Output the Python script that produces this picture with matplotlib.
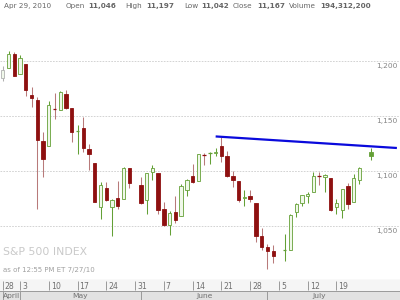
import numpy as np
import matplotlib
matplotlib.use("Agg")
import matplotlib.pyplot as plt

# daily S&P 500 candles (Jul 26 is missing on the chart)
dates = ["2010-04-28", "2010-04-29", "2010-04-30",
         "2010-05-03", "2010-05-04", "2010-05-05", "2010-05-06", "2010-05-07",
         "2010-05-10", "2010-05-11", "2010-05-12", "2010-05-13", "2010-05-14",
         "2010-05-17", "2010-05-18", "2010-05-19", "2010-05-20", "2010-05-21",
         "2010-05-24", "2010-05-25", "2010-05-26", "2010-05-27", "2010-05-28",
         "2010-06-01", "2010-06-02", "2010-06-03", "2010-06-04",
         "2010-06-07", "2010-06-08", "2010-06-09", "2010-06-10", "2010-06-11",
         "2010-06-14", "2010-06-15", "2010-06-16", "2010-06-17", "2010-06-18",
         "2010-06-21", "2010-06-22", "2010-06-23", "2010-06-24", "2010-06-25",
         "2010-06-28", "2010-06-29", "2010-06-30", "2010-07-01", "2010-07-02",
         "2010-07-06", "2010-07-07", "2010-07-08", "2010-07-09",
         "2010-07-12", "2010-07-13", "2010-07-14", "2010-07-15", "2010-07-16",
         "2010-07-19", "2010-07-20", "2010-07-21", "2010-07-22", "2010-07-23",
         "2010-07-27"]
opens = [1184.6, 1193.3, 1206.8,
         1188.6, 1197.5, 1169.2, 1164.4, 1127.0,
         1122.3, 1156.4, 1155.4, 1170.0, 1157.2,
         1136.5, 1138.8, 1119.6, 1107.3, 1067.3,
         1084.8, 1067.4, 1075.5, 1074.3, 1102.6,
         1087.3, 1073.9, 1098.8, 1098.4,
         1065.8, 1050.8, 1062.8, 1058.8, 1082.7,
         1095.0, 1091.2, 1114.0, 1116.0, 1116.2,
         1122.8, 1113.9, 1095.6, 1090.9, 1075.1,
         1077.5, 1071.1, 1040.6, 1031.1, 1027.7,
         1028.1, 1028.5, 1062.9, 1070.5,
         1077.2, 1080.7, 1095.6, 1094.5, 1093.9,
         1066.9, 1064.5, 1086.7, 1072.1, 1092.2,
         1117.4]
highs = [1195.1, 1209.4, 1208.0,
         1205.1, 1197.5, 1176.0, 1167.6, 1135.1,
         1163.9, 1170.5, 1172.6, 1173.6, 1157.2,
         1141.9, 1148.7, 1124.3, 1107.3, 1090.2,
         1090.0, 1074.8, 1090.8, 1103.5, 1102.6,
         1094.8, 1098.6, 1105.7, 1098.4,
         1071.4, 1063.2, 1077.7, 1087.9, 1092.3,
         1105.9, 1115.6, 1116.6, 1117.7, 1121.0,
         1131.2, 1118.5, 1099.6, 1090.9, 1083.1,
         1082.6, 1071.1, 1048.1, 1033.6, 1033.0,
         1042.5, 1060.9, 1071.3, 1078.2,
         1080.8, 1099.5, 1099.1, 1096.9, 1093.9,
         1074.7, 1083.9, 1089.0, 1097.5, 1103.7,
         1121.0]
lows = [1181.8, 1193.3, 1186.3,
        1188.6, 1168.1, 1158.2, 1065.8, 1094.2,
        1122.3, 1147.7, 1155.4, 1156.1, 1126.1,
        1115.0, 1117.2, 1100.7, 1071.6, 1055.9,
        1072.7, 1040.8, 1065.6, 1074.3, 1084.8,
        1069.9, 1060.5, 1091.8, 1060.5,
        1049.9, 1042.2, 1052.3, 1058.8, 1077.1,
        1089.0, 1091.2, 1105.0, 1105.9, 1113.9,
        1108.2, 1094.2, 1085.3, 1071.6, 1067.9,
        1071.5, 1035.2, 1028.3, 1010.9, 1015.9,
        1018.4, 1028.5, 1058.2, 1068.1,
        1070.5, 1080.7, 1087.7, 1080.5, 1063.3,
        1061.1, 1056.9, 1065.3, 1072.1, 1087.9,
        1109.8]
closes = [1191.4, 1206.8, 1186.7,
          1202.3, 1173.6, 1165.9, 1128.2, 1110.9,
          1159.7, 1155.8, 1171.7, 1157.4, 1135.7,
          1136.9, 1120.8, 1115.1, 1071.6, 1087.7,
          1073.7, 1074.0, 1068.0, 1103.1, 1089.4,
          1070.7, 1098.4, 1102.8, 1064.9,
          1050.5, 1062.0, 1055.7, 1086.8, 1091.6,
          1089.6, 1115.2, 1114.6, 1116.0, 1117.5,
          1113.2, 1095.3, 1092.0, 1073.7, 1076.8,
          1074.6, 1041.2, 1030.7, 1027.4, 1022.6,
          1028.1, 1060.3, 1070.3, 1078.0,
          1078.8, 1095.3, 1095.2, 1096.5, 1064.9,
          1071.3, 1083.5, 1069.6, 1093.7, 1102.7,
          1113.8]

# trend line drawn on the chart
trend_x = [37.0, 68.5]
trend_y = [1131.4, 1120.9]

yticks = [1050, 1100, 1150, 1200]
week_ticks = ["2010-04-28", "2010-05-03", "2010-05-10", "2010-05-17", "2010-05-24",
              "2010-05-31", "2010-06-07", "2010-06-14", "2010-06-21", "2010-06-28",
              "2010-07-05", "2010-07-12", "2010-07-19"]
week_labels = ["28", "3", "10", "17", "24", "31", "7", "14", "21", "28", "5", "12", "19"]
month_starts = ["2010-04-28", "2010-05-03", "2010-06-01", "2010-07-01"]
month_names = ["April", "May", "June", "July"]
month_label_x = [1.45, 13.5, 35.0, 55.0]

# weekday positions, holidays leave a gap
x = np.busday_count(dates[0], dates).astype(float)
o = np.array(opens); h = np.array(highs); l = np.array(lows); c = np.array(closes)
prev = np.r_[np.nan, c[:-1]]

RED = "#8e1010"
RED_WICK = "#b87a7a"
GREEN = "#64a036"
GRAY = "#b0b0b0"

fig = plt.figure(figsize=(4, 3), dpi=100)
ax = fig.add_axes([0, 20 / 300, 1, 265 / 300])
ax.set_xlim(-0.478, 69.04)
ax.set_ylim(1000.9, 1241.8)

for v in yticks:
    ax.axhline(v, color="#cccccc", lw=0.6, ls=(0, (2, 1.5)), zorder=0)
    ax.text(0.993, v - 2.0, f"{v:,}", transform=ax.get_yaxis_transform(),
            ha="right", va="top", fontsize=5.4, color="#858585")

for i in range(len(x)):
    if np.isnan(prev[i]):
        col, wick = GRAY, GRAY
    elif c[i] < prev[i]:
        col, wick = RED, RED_WICK
    else:
        col, wick = GREEN, GREEN
    ax.vlines(x[i], l[i], h[i], color=wick, lw=0.75, zorder=2)
    lo, hi = min(o[i], c[i]), max(o[i], c[i])
    if hi - lo < 1.0:
        ax.hlines((lo + hi) / 2, x[i] - 0.3, x[i] + 0.3, color=col, lw=0.9, zorder=3)
        continue
    face = col if c[i] < o[i] else "#f0f8ea"
    ax.bar(x[i], hi - lo, bottom=lo, width=0.58, facecolor=face,
           edgecolor=col, linewidth=0.6, zorder=3)

ax.plot(trend_x, trend_y, color="#0a0adc", lw=1.6, zorder=4, solid_capstyle="butt")

ax.set_xticks([]); ax.set_yticks([])
for s in ["top", "left", "right"]:
    ax.spines[s].set_visible(False)
ax.spines["bottom"].set_color("#9a9a9a")
ax.spines["bottom"].set_linewidth(0.8)

ax.text(0.008, 0.085, "S&P 500 INDEX", transform=ax.transAxes, fontsize=7.8,
        color="#c9c9c9", ha="left", va="bottom")
ax.text(0.008, 0.028, "as of 12:55 PM ET 7/27/10", transform=ax.transAxes,
        fontsize=5.0, color="#a0a0a0", ha="left", va="bottom")

# week tick band
axb = fig.add_axes([0, 9 / 300, 1, 11 / 300])
axb.set_xlim(ax.get_xlim()); axb.set_ylim(0, 1)
axb.set_facecolor("#f5f5f5")
wx = np.busday_count(dates[0], week_ticks).astype(float)
axb.vlines(wx, 0.05, 0.95, color="#9a9a9a", lw=0.7)
for px, lab in zip(wx, week_labels):
    axb.text(px + 0.35, 0.4, lab, fontsize=5.6, color="#707070", ha="left", va="center")
axb.set_xticks([]); axb.set_yticks([])
for s in axb.spines.values():
    s.set_visible(False)

# month band
axm = fig.add_axes([0, 0, 1, 9 / 300])
axm.set_xlim(ax.get_xlim()); axm.set_ylim(0, 1)
axm.set_facecolor("#e2e2e2")
mx = np.busday_count(dates[0], month_starts).astype(float)
axm.vlines(mx, 0, 1, color="#9a9a9a", lw=0.7)
for px, lab in zip(month_label_x, month_names):
    axm.text(px, 0.4, lab, fontsize=5.4, color="#707070", ha="center", va="center")
axm.set_xticks([]); axm.set_yticks([])
for s in ["left", "right", "bottom"]:
    axm.spines[s].set_visible(False)
axm.spines["top"].set_color("#9a9a9a")
axm.spines["top"].set_linewidth(0.7)

# header line
header = [(4, "Apr 29, 2010", "normal"), (66, "Open", "normal"), (88, "11,046", "bold"),
          (125, "High", "normal"), (146, "11,197", "bold"), (184, "Low", "normal"),
          (201, "11,042", "bold"), (233, "Close", "normal"), (257, "11,167", "bold"),
          (289, "Volume", "normal"), (320, "194,312,200", "bold")]
for px, txt, wt in header:
    fig.text(px / 400, 1 - 6 / 300, txt, fontsize=5.2, color="#666666",
             fontweight=wt, ha="left", va="center")

fig.savefig("out.png", dpi=100)
